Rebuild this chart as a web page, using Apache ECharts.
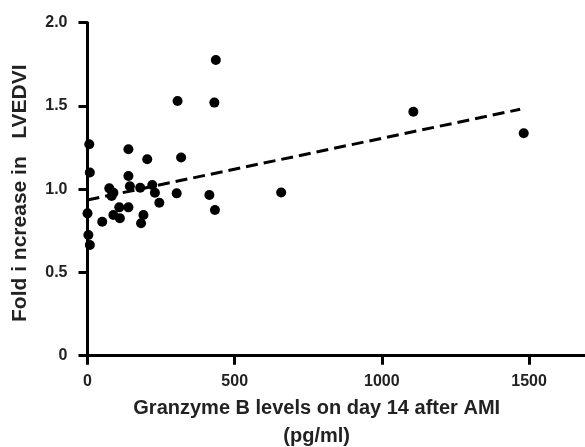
<!DOCTYPE html>
<html>
<head>
<meta charset="utf-8">
<script src="https://cdn.jsdelivr.net/npm/echarts@6/dist/echarts.min.js"></script>
<style>
  html, body { margin: 0; padding: 0; background: #fff; }
  #chart { width: 585px; height: 447px; }
</style>
</head>
<body>
<div id="chart"></div>
<script>
// granzyme B (pg/ml) vs fold increase in LVEDVI
var granzymeB = [6, 8, 0, 3, 8, 50, 74, 88, 82, 88, 108, 110, 139, 139, 144, 139, 179, 182, 190,
    203, 220, 229, 244, 303, 318, 306, 414, 433, 431, 436, 658, 1107, 1482];
var foldLVEDVI = [1.27, 1.10, 0.855, 0.725, 0.665, 0.805, 1.005, 0.979, 0.959, 0.845, 0.891, 0.825,
    1.24, 1.079, 1.018, 0.891, 1.009, 0.795, 0.845, 1.18, 1.025, 0.979, 0.919, 0.975, 1.19, 1.53,
    0.965, 0.875, 1.52, 1.776, 0.98, 1.465, 1.336];
// regression line end points
var fitX = [0, 1470];
var fitY = [0.935, 1.48];
var yTicks = ['0', '0.5', '1.0', '1.5', '2.0'];

var points = granzymeB.map(function (x, i) { return [x, foldLVEDVI[i]]; });
var fitLine = fitX.map(function (x, i) { return [x, fitY[i]]; });

var myChart = echarts.init(document.getElementById('chart'));
var txt = '#222';
var font = 'Liberation Sans';
var option = {
    animation: false,
    // x axis runs just past the right edge so the tick at max is off-canvas
    grid: {
        left: 87.5, top: 22.7, width: 500.4, height: 333,
        containLabel: false, outerBoundsMode: 'none'
    },
    xAxis: {
        type: 'value',
        min: 0,
        max: 1700,
        interval: 500,
        name: 'Granzyme B levels on day 14 after AMI\n(pg/ml)',
        nameLocation: 'middle',
        nameGap: 36,
        nameTextStyle: {
            color: txt, fontFamily: font, fontWeight: 'bold',
            fontSize: 20, lineHeight: 28, padding: [0, 42, 0, 0]
        },
        axisLine: { lineStyle: { color: '#000', width: 3 } },
        axisTick: { length: 9, lineStyle: { color: '#000', width: 3 } },
        axisLabel: {
            color: txt, fontFamily: font, fontWeight: 'bold', fontSize: 16, margin: 18,
            formatter: function (v) { return v % 500 === 0 ? String(v) : ''; }
        },
        splitLine: { show: false }
    },
    yAxis: {
        type: 'value',
        min: 0,
        max: 2,
        interval: 0.5,
        name: 'Fold i ncrease in   LVEDVI',
        nameLocation: 'middle',
        nameGap: 57,
        nameTextStyle: {
            color: txt, fontFamily: font, fontWeight: 'bold', fontSize: 21,
            padding: [0, 8, 0, 0]
        },
        axisLine: { lineStyle: { color: '#000', width: 3 } },
        axisTick: { length: 9, lineStyle: { color: '#000', width: 3 } },
        axisLabel: {
            color: txt, fontFamily: font, fontWeight: 'bold', fontSize: 16, margin: 20,
            formatter: function (v) { return yTicks[Math.round(v * 2)]; }
        },
        splitLine: { show: false }
    },
    series: [
        {
            type: 'line',
            data: fitLine,
            symbol: 'none',
            lineStyle: { color: '#000', width: 3, type: [12, 6] },
            z: 1
        },
        {
            type: 'scatter',
            data: points,
            symbolSize: 10,
            itemStyle: { color: '#000', opacity: 1 },
            z: 2
        }
    ]
};
myChart.setOption(option);
</script>
</body>
</html>
